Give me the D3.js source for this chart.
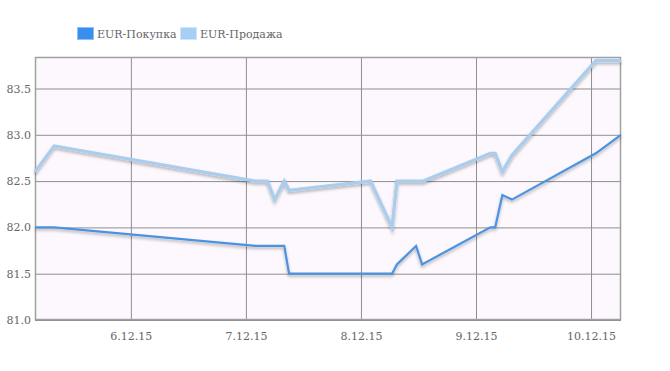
<!DOCTYPE html>
<html><head><meta charset="utf-8">
<script src="https://cdn.jsdelivr.net/npm/d3@7"></script>
<style>
html,body{margin:0;padding:0;background:#fff;}
</style></head>
<body><svg id="c" width="670" height="371"></svg>
<script>
const seriesNames = ["EUR-Покупка", "EUR-Продажа"];
const buyTimes = ["2015-12-05T04:00","2015-12-05T08:00","2015-12-07T02:00","2015-12-07T08:00","2015-12-07T09:00","2015-12-08T06:30","2015-12-08T07:30","2015-12-08T11:30","2015-12-08T12:45","2015-12-09T03:00","2015-12-09T04:00","2015-12-09T05:30","2015-12-09T07:30","2015-12-10T01:00","2015-12-10T06:15"];
const buyValues = [82.0,82.0,81.8,81.8,81.5,81.5,81.6,81.8,81.6,82.0,82.0,82.35,82.3,82.8,83.0];
const sellTimes = ["2015-12-05T04:00","2015-12-05T08:00","2015-12-07T02:00","2015-12-07T04:30","2015-12-07T06:00","2015-12-07T08:00","2015-12-07T09:00","2015-12-08T02:00","2015-12-08T06:30","2015-12-08T07:30","2015-12-08T13:00","2015-12-09T03:00","2015-12-09T04:00","2015-12-09T05:30","2015-12-09T07:30","2015-12-10T01:00","2015-12-10T06:15"];
const sellValues = [82.6,82.88,82.5,82.5,82.3,82.5,82.4,82.5,82.0,82.5,82.5,82.8,82.8,82.6,82.78,83.8,83.8];
const yTicks = [81.0,81.5,82.0,82.5,83.0,83.5];
const xTickLabels = ["6.12.15","7.12.15","8.12.15","9.12.15","10.12.15"];
const xTickDates = ["2015-12-06T00:00","2015-12-07T00:00","2015-12-08T00:00","2015-12-09T00:00","2015-12-10T00:00"];
const colors = ["#4a93e0", "#a9cdee"];
const FONT = "'DejaVu Serif', 'Liberation Serif', 'Noto Serif', serif";

const parse = d3.isoParse;
const buy = buyTimes.map((t,i)=>({t:parse(t), v:buyValues[i]}));
const sell = sellTimes.map((t,i)=>({t:parse(t), v:sellValues[i]}));

const m = {l:35, r:621, t:57, b:320};
const svg = d3.select("#c");
const defs = svg.append("defs");
const f = defs.append("filter").attr("id","sh").attr("x","-10%").attr("y","-20%").attr("width","120%").attr("height","160%");
f.append("feDropShadow").attr("dx",0).attr("dy",2).attr("stdDeviation",1.5).attr("flood-color","#000").attr("flood-opacity",0.3);

const x = d3.scaleTime().domain(d3.extent(buy.concat(sell), d=>d.t)).range([m.l, m.r]);
const y = d3.scaleLinear().domain([81, 83.84]).range([m.b, m.t]);

svg.append("rect").attr("x",m.l).attr("y",m.t).attr("width",m.r-m.l).attr("height",m.b-m.t).attr("fill","#fdf8fd");

const ya = svg.append("g").attr("transform",`translate(${m.l},0)`)
  .call(d3.axisLeft(y).tickValues(yTicks).tickFormat(d3.format(".1f")).tickSize(-(m.r-m.l)).tickPadding(4));
ya.select(".domain").remove();
ya.selectAll(".tick line").attr("stroke","#8f8f8f");
ya.selectAll(".tick text").attr("fill","#666").style("font-family",FONT).style("font-size","11px");

const xa = svg.append("g").attr("transform",`translate(0,${m.b})`)
  .call(d3.axisBottom(x).tickValues(xTickDates.map(parse)).tickFormat((d,i)=>xTickLabels[i]).tickSize(-(m.b-m.t)).tickPadding(12));
xa.select(".domain").remove();
xa.selectAll(".tick line").attr("stroke","#8f8f8f");
xa.selectAll(".tick text").attr("fill","#666").style("font-family",FONT).style("font-size","11px");

svg.append("rect").attr("x",m.l+0.5).attr("y",m.t+0.5).attr("width",m.r-m.l-1).attr("height",m.b-m.t-1)
  .attr("fill","none").attr("stroke","#a0a0a0").attr("stroke-width",1.5);

const line = d3.line().x(d=>x(d.t)).y(d=>y(d.v));
svg.append("path").datum(sell).attr("d",line).attr("fill","none").attr("stroke",colors[1]).attr("stroke-width",3.2).attr("filter","url(#sh)");
svg.append("path").datum(buy).attr("d",line).attr("fill","none").attr("stroke",colors[0]).attr("stroke-width",2.2).attr("filter","url(#sh)");

const lg = svg.append("g");
const lx = [77, 180];
seriesNames.forEach((n,i)=>{
  lg.append("rect").attr("x",lx[i]+0.5).attr("y",27.5).attr("width",16).attr("height",12)
    .attr("fill", i===0 ? "#3a8ef0" : "#a6cff6").attr("stroke", i===0 ? "#8fc0f5":"#d0e6fa");
  lg.append("text").attr("x",lx[i]+20).attr("y",38).attr("fill","#666").style("font-family",FONT).style("font-size","11px").text(n);
});
</script></body></html>
